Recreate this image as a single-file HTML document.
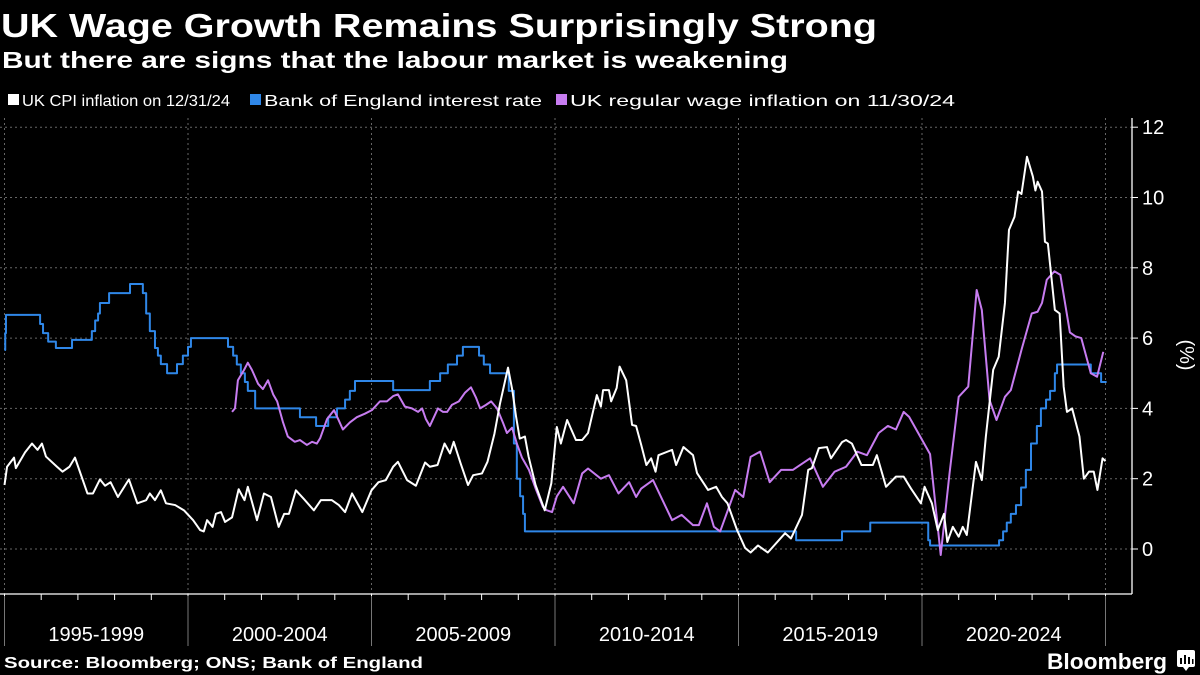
<!DOCTYPE html>
<html><head><meta charset="utf-8"><style>
html,body{margin:0;padding:0;background:#000;}
svg{display:block;font-family:"Liberation Sans",sans-serif;}
</style></head><body>
<svg id="chart" width="1200" height="675" viewBox="0 0 1200 675" xmlns="http://www.w3.org/2000/svg">
<rect width="1200" height="675" fill="#000"/>
<text x="1" y="37" fill="#fff" font-size="33" font-weight="bold" textLength="876" lengthAdjust="spacingAndGlyphs">UK Wage Growth Remains Surprisingly Strong</text>
<text x="2" y="68" fill="#fff" font-size="23" font-weight="bold" textLength="786" lengthAdjust="spacingAndGlyphs">But there are signs that the labour market is weakening</text>
<g font-size="16" fill="#fff">
<rect x="8" y="94" width="11" height="11" fill="#fff"/>
<text x="22" y="106" textLength="208" lengthAdjust="spacingAndGlyphs">UK CPI inflation on 12/31/24</text>
<rect x="250" y="94" width="11" height="11" fill="#2f87e8"/>
<text x="264" y="106" textLength="278" lengthAdjust="spacingAndGlyphs">Bank of England interest rate</text>
<rect x="556" y="94" width="11" height="11" fill="#c77cf0"/>
<text x="570" y="106" textLength="385" lengthAdjust="spacingAndGlyphs">UK regular wage inflation on 11/30/24</text>
</g>
<g id="grid"></g>
<g id="axes"></g>
<g id="series"></g>
<text transform="translate(1180,355) rotate(90)" fill="#fff" font-size="20" text-anchor="middle">(%)</text>
<text x="4" y="668" fill="#fff" font-size="16" font-weight="bold" textLength="419" lengthAdjust="spacingAndGlyphs">Source: Bloomberg; ONS; Bank of England</text>
<text x="1047" y="669" fill="#fff" font-size="22" font-weight="bold" textLength="120" lengthAdjust="spacingAndGlyphs">Bloomberg</text>
<g><rect x="1177" y="650" width="18" height="17" rx="2" fill="#fff"/><path d="M1183 667 L1186 671 L1189 667Z" fill="#fff"/><rect x="1180" y="658" width="2" height="6" fill="#000"/><rect x="1184" y="655" width="2" height="9" fill="#000"/><rect x="1188" y="657" width="2" height="7" fill="#000"/><rect x="1192" y="659" width="1.5" height="5" fill="#000"/></g>
</svg>
<script>
const cpiDates=[1995.0,1995.07,1995.26,1995.31,1995.56,1995.75,1995.90,1996.02,1996.13,1996.43,1996.58,1996.77,1996.92,1997.26,1997.41,1997.60,1997.74,1997.89,1998.09,1998.39,1998.62,1998.86,1998.96,1999.10,1999.26,1999.40,1999.65,1999.89,2000.14,2000.33,2000.43,2000.52,2000.67,2000.76,2000.90,2001.01,2001.20,2001.38,2001.54,2001.63,2001.88,2002.07,2002.26,2002.47,2002.62,2002.75,2002.94,2003.15,2003.43,2003.62,2003.92,2004.11,2004.28,2004.47,2004.75,2005.0,2005.19,2005.39,2005.59,2005.72,2005.97,2006.21,2006.46,2006.59,2006.80,2006.99,2007.14,2007.24,2007.43,2007.63,2007.77,2008.01,2008.16,2008.35,2008.50,2008.72,2008.84,2008.94,2009.04,2009.18,2009.28,2009.47,2009.72,2009.90,2010.05,2010.16,2010.33,2010.57,2010.74,2010.90,2011.14,2011.25,2011.31,2011.47,2011.53,2011.68,2011.76,2011.94,2012.10,2012.21,2012.35,2012.49,2012.62,2012.74,2012.82,2013.19,2013.30,2013.50,2013.76,2013.87,2014.17,2014.39,2014.55,2014.70,2014.96,2015.18,2015.33,2015.53,2015.80,2016.27,2016.43,2016.73,2016.90,2017.0,2017.19,2017.41,2017.52,2017.82,2017.93,2018.09,2018.35,2018.66,2018.77,2019.02,2019.29,2019.50,2019.70,2019.97,2020.07,2020.27,2020.43,2020.60,2020.69,2020.84,2021.0,2021.11,2021.22,2021.47,2021.63,2021.74,2021.94,2022.09,2022.26,2022.37,2022.52,2022.62,2022.71,2022.86,2023.02,2023.09,2023.15,2023.27,2023.35,2023.43,2023.62,2023.75,2023.86,2023.95,2024.09,2024.29,2024.41,2024.55,2024.68,2024.78,2024.92,2025.0];
const cpiValues=[1.82,2.34,2.6,2.3,2.75,3.0,2.82,3.0,2.63,2.34,2.2,2.34,2.6,1.58,1.58,1.98,1.8,1.9,1.48,1.98,1.3,1.39,1.58,1.39,1.67,1.3,1.25,1.1,0.82,0.54,0.5,0.82,0.63,1.0,1.05,0.77,0.9,1.7,1.39,1.77,0.82,1.58,1.48,0.63,1.0,1.0,1.67,1.43,1.1,1.39,1.39,1.25,1.05,1.58,1.05,1.67,1.9,1.96,2.34,2.48,1.96,1.8,2.46,2.34,2.39,3.0,2.72,3.05,2.43,1.82,2.1,2.15,2.48,3.28,4.13,5.16,4.5,3.76,3.14,3.2,2.63,1.82,1.1,1.87,3.47,3.0,3.67,3.1,3.1,3.3,4.38,4.05,4.52,4.52,4.2,4.58,5.19,4.8,3.53,3.5,2.96,2.39,2.58,2.2,2.67,2.82,2.39,2.9,2.67,2.16,1.68,1.77,1.48,1.3,0.54,0.03,-0.1,0.1,-0.1,0.45,0.3,0.97,2.25,2.3,2.87,2.9,2.58,3.04,3.1,3.0,2.39,2.39,2.67,1.77,2.06,2.06,1.72,1.3,1.77,1.3,0.54,1.0,0.2,0.63,0.35,0.63,0.4,2.48,1.96,3.2,5.1,5.47,7.0,9.08,9.45,10.17,10.1,11.16,10.6,10.2,10.45,10.17,8.74,8.69,6.8,6.7,4.62,3.9,4.0,3.2,2.0,2.2,2.2,1.68,2.58,2.5];
const boeDates=[1995.0,1995.02,1995.04,1995.97,1996.05,1996.19,1996.40,1996.84,1997.38,1997.47,1997.55,1997.60,1997.85,1998.42,1998.77,1998.86,1998.96,1999.10,1999.18,1999.26,1999.43,1999.70,1999.86,2000.0,2000.08,2001.09,2001.23,2001.33,2001.44,2001.55,2001.63,2001.83,2003.05,2003.49,2003.82,2004.06,2004.28,2004.41,2004.55,2005.59,2006.59,2006.87,2007.08,2007.33,2007.49,2007.93,2008.06,2008.23,2008.74,2008.88,2008.96,2009.05,2009.13,2009.18,2016.57,2017.82,2018.59,2020.17,2020.22,2022.10,2022.21,2022.31,2022.42,2022.56,2022.70,2022.83,2022.97,2023.13,2023.24,2023.38,2023.49,2023.62,2023.68,2024.60,2024.88,2025.03];
const boeValues=[5.66,6.14,6.66,6.4,6.14,5.9,5.72,5.95,6.2,6.5,6.7,7.0,7.28,7.54,7.28,6.7,6.2,5.72,5.5,5.26,5.0,5.26,5.5,5.75,6.0,5.75,5.5,5.25,5.0,4.75,4.5,4.0,3.75,3.5,3.75,4.0,4.25,4.5,4.78,4.52,4.78,5.0,5.25,5.5,5.75,5.5,5.25,5.0,4.5,3.0,2.0,1.5,1.0,0.5,0.25,0.5,0.75,0.25,0.1,0.25,0.5,0.75,1.0,1.25,1.75,2.25,3.0,3.5,4.0,4.25,4.5,5.0,5.25,5.0,4.75,4.75];
const wageDates=[2001.20,2001.28,2001.36,2001.53,2001.63,2001.74,2001.91,2002.04,2002.18,2002.32,2002.43,2002.59,2002.72,2002.91,2003.05,2003.24,2003.38,2003.51,2003.60,2003.79,2003.98,2004.09,2004.22,2004.41,2004.60,2004.82,2005.01,2005.23,2005.42,2005.59,2005.72,2005.91,2006.10,2006.27,2006.38,2006.48,2006.59,2006.70,2006.81,2006.95,2007.06,2007.19,2007.38,2007.55,2007.71,2007.85,2007.96,2008.12,2008.26,2008.42,2008.58,2008.69,2008.83,2008.96,2009.10,2009.29,2009.48,2009.67,2009.78,2009.92,2010.05,2010.22,2010.51,2010.74,2010.90,2011.25,2011.47,2011.73,2012.02,2012.21,2012.35,2012.67,2012.93,2013.19,2013.45,2013.76,2013.92,2014.14,2014.33,2014.50,2014.91,2015.13,2015.33,2015.59,2015.85,2016.16,2016.48,2016.95,2017.30,2017.62,2017.93,2018.24,2018.50,2018.82,2019.07,2019.29,2019.50,2019.65,2020.22,2020.51,2020.75,2021.0,2021.26,2021.49,2021.63,2021.84,2022.03,2022.26,2022.42,2022.72,2022.99,2023.15,2023.27,2023.40,2023.61,2023.77,2024.03,2024.18,2024.34,2024.60,2024.77,2024.94];
const wageValues=[3.9,4.0,4.8,5.1,5.3,5.1,4.7,4.55,4.8,4.4,4.2,3.6,3.2,3.05,3.1,2.96,3.05,3.0,3.15,3.7,3.95,3.7,3.4,3.6,3.75,3.85,3.95,4.2,4.2,4.35,4.4,4.05,4.0,3.9,4.0,3.7,3.5,3.75,4.0,3.9,3.9,4.1,4.2,4.45,4.6,4.3,4.0,4.1,4.2,4.0,3.6,3.3,3.45,3.0,2.6,2.25,1.7,1.2,1.1,1.05,1.5,1.77,1.3,2.15,2.29,2.0,2.1,1.58,1.9,1.48,1.72,1.96,1.39,0.82,0.97,0.68,0.68,1.3,0.63,0.5,1.68,1.48,2.62,2.77,1.9,2.25,2.25,2.58,1.77,2.2,2.34,2.77,2.67,3.3,3.5,3.4,3.9,3.76,2.7,-0.17,2.15,4.33,4.62,7.37,6.8,4.24,3.67,4.33,4.52,5.7,6.7,6.75,7.0,7.66,7.9,7.8,6.16,6.05,6.0,5.0,4.9,5.61];
const yTicks=[0,2,4,6,8,10,12];
const periodLabels=["1995-1999","2000-2004","2005-2009","2010-2014","2015-2019","2020-2024"];
const periodStarts=[1995,2000,2005,2010,2015,2020,2025];

const NS="http://www.w3.org/2000/svg";
const x=t=>4.5+(t-1995)*36.7;
const y=v=>549-v*35.15;
const PL=0,PR=1132,PT=118,PB=594;
function mk(tag,attrs,parent){const e=document.createElementNS(NS,tag);for(const k in attrs)e.setAttribute(k,attrs[k]);parent.appendChild(e);return e;}
const grid=document.getElementById('grid'),axes=document.getElementById('axes'),series=document.getElementById('series');
yTicks.forEach(v=>{
  const l=mk('line',{x1:PL,x2:PR,y1:y(v),y2:y(v),stroke:'#666','stroke-width':1,'stroke-dasharray':'2,3'},grid);
  
  
  const tk=mk('line',{x1:PR,x2:PR+6,y1:y(v),y2:y(v),stroke:'#fff','stroke-width':1},axes);
  
  
  const tx=mk('text',{x:1142,y:y(v)+7,fill:'#fff','font-size':20},axes);
  tx.textContent=v;
  
  
});
for(let yr=1995;yr<=2025;yr++){
  const tk=mk('line',{x1:x(yr),x2:x(yr),y1:PB,y2:PB+6,stroke:'#fff','stroke-width':1},axes);
  
  
}
periodStarts.forEach((yr,i)=>{
  const g=mk('line',{x1:x(yr),x2:x(yr),y1:PT,y2:PB,stroke:'#666','stroke-width':1,'stroke-dasharray':'2,3'},grid);
  
  
  const s=mk('line',{x1:x(yr),x2:x(yr),y1:PB+2,y2:646,stroke:'#777','stroke-width':1},axes);
  
  
  if(i<periodLabels.length){
    const tx=mk('text',{x:(x(yr)+x(periodStarts[i+1]))/2,y:641,fill:'#fff','font-size':20,'text-anchor':'middle'},axes);
    tx.textContent=periodLabels[i];
    
    
  }
});
const xa=mk('line',{x1:0,x2:PR,y1:PB,y2:PB,stroke:'#fff','stroke-width':1.3},axes);


const ya=mk('line',{x1:PR,x2:PR,y1:PT,y2:PB,stroke:'#fff','stroke-width':1.3},axes);



function line(dates,vals,color,step){
  let d='';
  dates.forEach((t,i)=>{
    if(i===0){d+='M'+x(t)+' '+y(vals[i]);}
    else if(step){d+='H'+x(t)+'V'+y(vals[i]);}
    else{d+='L'+x(t)+' '+y(vals[i]);}
  });
  return mk('path',{d:d,fill:'none',stroke:color,'stroke-width':2,'stroke-linejoin':'round'},series);
}
const pb=line(boeDates,boeValues,'#2f87e8',true);


const pw=line(wageDates,wageValues,'#c77cf0',false);


const pc=line(cpiDates,cpiValues,'#ffffff',false);


</script>
</body></html>
